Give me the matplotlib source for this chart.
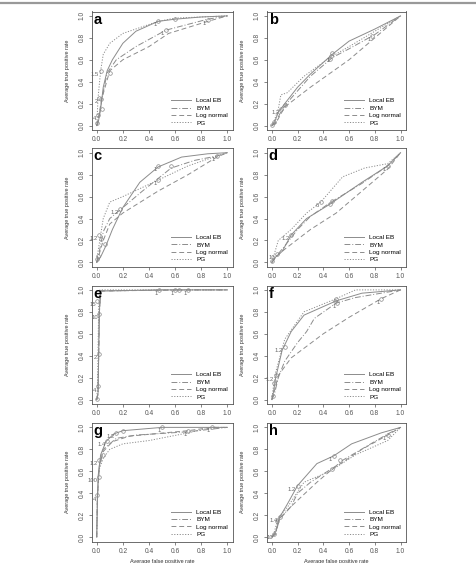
"""
plot.py — ROC curves of four disease-mapping methods (panels a-h)
"""
import matplotlib
matplotlib.use("Agg")
import matplotlib.pyplot as plt
from matplotlib.lines import Line2D

# ── Series metadata ───────────────────────────────────────────────────
METHODS = ["Local EB", "BYM", "Log normal", "PG"]
STYLES = {
    "Local EB":   "-",
    "BYM":        (0, (6, 2, 1, 2)),
    "Log normal": (0, (5, 3)),
    "PG":         (0, (1.2, 1.6)),
}
PANEL_LETTERS = ["a", "b", "c", "d", "e", "f", "g", "h"]
TICKS = [0.0, 0.2, 0.4, 0.6, 0.8, 1.0]
TICK_LABELS = ["0.0", "0.2", "0.4", "0.6", "0.8", "1.0"]

# ── ROC curves: (false positive rate, true positive rate) ─────────────
PANEL_A = {
    "Local EB":   ([0, 0.01, 0.03, 0.05, 0.08, 0.12, 0.2, 0.3, 0.47, 0.6, 0.8, 1],
                   [0, 0.02, 0.15, 0.35, 0.5, 0.6, 0.75, 0.86, 0.95, 0.97, 0.99, 1]),
    "BYM":        ([0, 0.02, 0.04, 0.08, 0.15, 0.3, 0.53, 0.85, 1],
                   [0, 0.1, 0.25, 0.48, 0.6, 0.72, 0.87, 0.97, 1]),
    "Log normal": ([0, 0.02, 0.04, 0.1, 0.2, 0.4, 0.55, 0.85, 1],
                   [0, 0.12, 0.25, 0.5, 0.6, 0.72, 0.84, 0.95, 1]),
    "PG":         ([0, 0.01, 0.03, 0.05, 0.1, 0.2, 0.47, 0.6, 1],
                   [0, 0.25, 0.5, 0.65, 0.75, 0.84, 0.95, 0.98, 1]),
}
PANEL_B = {
    "Local EB":   ([0, 0.02, 0.05, 0.1, 0.2, 0.3, 0.47, 0.6, 0.8, 1],
                   [0, 0.03, 0.12, 0.2, 0.35, 0.47, 0.65, 0.77, 0.88, 1]),
    "BYM":        ([0, 0.03, 0.08, 0.15, 0.3, 0.47, 0.6, 0.8, 1],
                   [0, 0.03, 0.15, 0.25, 0.45, 0.62, 0.7, 0.83, 1]),
    "Log normal": ([0, 0.03, 0.1, 0.3, 0.6, 0.8, 1],
                   [0, 0.02, 0.17, 0.35, 0.6, 0.8, 1]),
    "PG":         ([0, 0.02, 0.05, 0.07, 0.12, 0.25, 0.45, 0.6, 0.8, 1],
                   [0, 0.05, 0.15, 0.28, 0.3, 0.45, 0.62, 0.72, 0.86, 1]),
}
PANEL_C = {
    "Local EB":   ([0, 0.03, 0.07, 0.12, 0.2, 0.33, 0.47, 0.65, 0.85, 1],
                   [0, 0.05, 0.15, 0.3, 0.5, 0.73, 0.87, 0.96, 0.99, 1]),
    "BYM":        ([0, 0.02, 0.05, 0.1, 0.2, 0.35, 0.57, 0.75, 0.92, 1],
                   [0, 0.1, 0.28, 0.4, 0.5, 0.65, 0.86, 0.93, 0.97, 1]),
    "Log normal": ([0, 0.02, 0.05, 0.1, 0.2, 0.47, 0.7, 0.92, 1],
                   [0, 0.08, 0.2, 0.35, 0.45, 0.65, 0.8, 0.96, 1]),
    "PG":         ([0, 0.01, 0.05, 0.1, 0.2, 0.47, 0.7, 0.92, 1],
                   [0, 0.1, 0.4, 0.55, 0.6, 0.75, 0.88, 0.97, 1]),
}
PANEL_D = {
    "Local EB":   ([0, 0.03, 0.08, 0.15, 0.27, 0.45, 0.7, 0.9, 1],
                   [0, 0.05, 0.1, 0.25, 0.4, 0.53, 0.73, 0.88, 1]),
    "BYM":        ([0, 0.03, 0.1, 0.2, 0.3, 0.46, 0.7, 0.9, 1],
                   [0, 0.05, 0.15, 0.3, 0.42, 0.55, 0.72, 0.88, 1]),
    "Log normal": ([0, 0.04, 0.1, 0.3, 0.5, 0.7, 0.9, 1],
                   [0, 0.06, 0.12, 0.3, 0.45, 0.65, 0.85, 1]),
    "PG":         ([0, 0.02, 0.05, 0.15, 0.27, 0.38, 0.55, 0.72, 0.9, 1],
                   [0, 0.08, 0.2, 0.3, 0.45, 0.55, 0.78, 0.86, 0.9, 1]),
}
PANEL_E = {
    "Local EB":   ([0, 0.01, 0.015, 0.02, 0.03, 0.5, 1],
                   [0, 0.05, 0.4, 0.8, 0.99, 1, 1]),
    "BYM":        ([0, 0.01, 0.015, 0.02, 0.03, 0.6, 1],
                   [0, 0.06, 0.42, 0.78, 0.99, 1, 1]),
    "Log normal": ([0, 0.01, 0.015, 0.02, 0.03, 0.7, 1],
                   [0, 0.05, 0.4, 0.79, 0.99, 1, 1]),
    "PG":         ([0, 0.005, 0.01, 0.015, 0.025, 0.63, 1],
                   [0, 0.1, 0.45, 0.85, 1, 1, 1]),
}
PANEL_F = {
    "Local EB":   ([0, 0.01, 0.03, 0.08, 0.15, 0.25, 0.5, 0.7, 1],
                   [0, 0.05, 0.2, 0.45, 0.62, 0.77, 0.9, 0.97, 1]),
    "BYM":        ([0, 0.02, 0.05, 0.1, 0.2, 0.27, 0.33, 0.5, 0.65, 0.85, 1],
                   [0, 0.05, 0.2, 0.35, 0.52, 0.62, 0.74, 0.88, 0.93, 0.97, 1]),
    "Log normal": ([0, 0.02, 0.05, 0.15, 0.4, 0.6, 0.85, 1],
                   [0, 0.08, 0.22, 0.38, 0.6, 0.75, 0.92, 1]),
    "PG":         ([0, 0.01, 0.03, 0.1, 0.25, 0.5, 0.65, 1],
                   [0, 0.1, 0.25, 0.55, 0.8, 0.92, 1.0, 1]),
}
PANEL_G = {
    "Local EB":   ([0, 0.005, 0.01, 0.03, 0.07, 0.13, 0.2, 0.5, 1],
                   [0, 0.3, 0.55, 0.75, 0.87, 0.94, 0.97, 1.0, 1]),
    "BYM":        ([0, 0.005, 0.02, 0.05, 0.15, 0.3, 0.7, 1],
                   [0, 0.35, 0.65, 0.8, 0.9, 0.93, 0.96, 1]),
    "Log normal": ([0, 0.005, 0.02, 0.05, 0.12, 0.25, 0.7, 0.88, 1],
                   [0, 0.35, 0.65, 0.78, 0.87, 0.92, 0.97, 1.0, 1]),
    "PG":         ([0, 0.005, 0.02, 0.05, 0.1, 0.2, 0.4, 0.7, 0.88, 1],
                   [0, 0.38, 0.62, 0.72, 0.8, 0.85, 0.88, 0.95, 1.0, 1]),
}
PANEL_H = {
    "Local EB":   ([0, 0.03, 0.06, 0.12, 0.2, 0.35, 0.48, 0.62, 0.85, 1],
                   [0, 0.05, 0.18, 0.3, 0.47, 0.67, 0.74, 0.85, 0.95, 1]),
    "BYM":        ([0, 0.03, 0.06, 0.15, 0.2, 0.3, 0.5, 0.55, 0.9, 1],
                   [0, 0.03, 0.17, 0.28, 0.4, 0.5, 0.65, 0.7, 0.94, 1]),
    "Log normal": ([0, 0.03, 0.05, 0.15, 0.35, 0.47, 0.7, 0.9, 1],
                   [0, 0.03, 0.15, 0.28, 0.5, 0.62, 0.8, 0.93, 1]),
    "PG":         ([0, 0.02, 0.05, 0.12, 0.25, 0.45, 0.65, 0.9, 1],
                   [0, 0.05, 0.18, 0.27, 0.5, 0.6, 0.75, 0.88, 1]),
}
PANELS = [PANEL_A, PANEL_B, PANEL_C, PANEL_D, PANEL_E, PANEL_F, PANEL_G, PANEL_H]

# ── Threshold markers: (fpr, tpr, label); "" = circle only ───────────
MARKS_A = [(0.47, 0.95, "1"), (0.6, 0.97, ""), (0.53, 0.87, "1"), (0.85, 0.96, "1"),
           (0.03, 0.5, "1.5"), (0.02, 0.25, "2"), (0.03, 0.24, ""), (0.1, 0.48, ""),
           (0.01, 0.1, "4"), (0.0, 0.02, ""), (0.04, 0.15, "")]
MARKS_B = [(0.46, 0.63, "1"), (0.47, 0.66, ""), (0.45, 0.61, ""), (0.78, 0.82, "1"),
           (0.07, 0.15, "1.2"), (0.1, 0.19, ""), (0.02, 0.03, ""), (0.0, 0.01, "")]
MARKS_C = [(0.47, 0.88, "1"), (0.57, 0.88, ""), (0.47, 0.75, "1"), (0.92, 0.97, "1"),
           (0.18, 0.49, "1.2"), (0.06, 0.17, ""), (0.02, 0.25, "1.2"), (0.03, 0.21, ""),
           (0.0, 0.03, ""), (0.01, 0.06, "")]
MARKS_D = [(0.38, 0.55, "6"), (0.45, 0.53, ""), (0.47, 0.56, ""), (0.9, 0.88, "1"),
           (0.15, 0.25, "1.2"), (0.04, 0.08, "10"), (0.0, 0.01, "")]
MARKS_E = [(0.48, 1.0, "1"), (0.6, 1.0, "1"), (0.63, 1.0, ""), (0.7, 1.0, "1"),
           (0.02, 0.78, "10"), (0.015, 0.42, "2"), (0.01, 0.12, "4"), (0.005, 0.9, "15"),
           (0.0, 0.01, "")]
MARKS_F = [(0.5, 0.92, ""), (0.49, 0.9, ""), (0.51, 0.88, "1"), (0.85, 0.92, "1"),
           (0.1, 0.48, "1.2"), (0.03, 0.22, "1.2"), (0.02, 0.15, ""), (0.01, 0.03, "")]
MARKS_G = [(0.5, 1.0, "1"), (0.7, 0.97, "1"), (0.88, 1.0, "1"), (0.15, 0.95, "1.2"),
           (0.2, 0.97, ""), (0.08, 0.88, "1.4"), (0.05, 0.75, ""), (0.02, 0.7, "1.2"),
           (0.02, 0.55, "100"), (0.005, 0.38, "4")]
MARKS_H = [(0.48, 0.74, "1"), (0.53, 0.7, ""), (0.47, 0.62, ""), (0.9, 0.93, "1"),
           (0.2, 0.47, "1.2"), (0.06, 0.18, "1.4"), (0.04, 0.15, ""), (0.02, 0.03, "10")]
MARKS = [MARKS_A, MARKS_B, MARKS_C, MARKS_D, MARKS_E, MARKS_F, MARKS_G, MARKS_H]

# ── Layout (pixels in a 476x563 canvas) ───────────────────────────────
W, H = 476, 563
COL_LEFT = [91.5, 266.7]
COL_WIDTH = [141.0, 139.0]
ROW_TOP = [11.5, 148.3, 285.5, 423.0]
ROW_HEIGHT = 118.5

LINE_COLOR = "#8c8c8c"
TEXT_COLOR = "#333333"

plt.rcParams["font.family"] = ["Liberation Sans", "DejaVu Sans"]

fig = plt.figure(figsize=(W / 100, H / 100), dpi=100)
fig.add_artist(Line2D([0, 1], [1 - 2.5 / H, 1 - 2.5 / H], color="#999999", lw=1.6))

for i, (curves, marks) in enumerate(zip(PANELS, MARKS)):
    row, col = divmod(i, 2)
    left = COL_LEFT[col] / W
    bottom = 1 - (ROW_TOP[row] + ROW_HEIGHT) / H
    ax = fig.add_axes([left, bottom, COL_WIDTH[col] / W, ROW_HEIGHT / H])

    for name in METHODS:
        fpr, tpr = curves[name]
        ax.plot(fpr, tpr, color=LINE_COLOR, lw=0.7, ls=STYLES[name], label=name)

    for x, y, lab in marks:
        ax.plot(x, y, "o", ms=2.6, mfc="none", mec="#888888", mew=0.5)
        if lab:
            ax.text(x - 0.012, y - 0.01, lab, fontsize=4.2, color="#666666",
                    ha="right", va="top")

    ax.set_xlim(-0.04, 1.04)
    ax.set_ylim(-0.04, 1.04)
    ax.set_xticks(TICKS)
    ax.set_xticklabels(TICK_LABELS, fontsize=4.8, color=TEXT_COLOR)
    ax.set_yticks(TICKS)
    ax.set_yticklabels(TICK_LABELS, fontsize=4.8, color=TEXT_COLOR,
                       rotation=90, va="center")
    ax.tick_params(length=2.5, width=0.5, pad=2, colors="#555555")
    for sp in ax.spines.values():
        sp.set_color("#555555")
        sp.set_linewidth(0.6)

    ax.set_ylabel("Average true positive rate", fontsize=4.0, color=TEXT_COLOR,
                  labelpad=6)
    if row == 3:
        ax.set_xlabel("Average false positive rate", fontsize=4.0,
                      color=TEXT_COLOR, labelpad=3)

    ax.text(0.015, 0.99, PANEL_LETTERS[i], transform=ax.transAxes,
            fontsize=10.5, fontweight="bold", ha="left", va="top")

    ax.legend(loc="lower right", frameon=False, fontsize=4.6, handlelength=3.2,
              handletextpad=0.8, labelspacing=0.3, borderaxespad=0.3)

fig.savefig("out.png", dpi=100)
